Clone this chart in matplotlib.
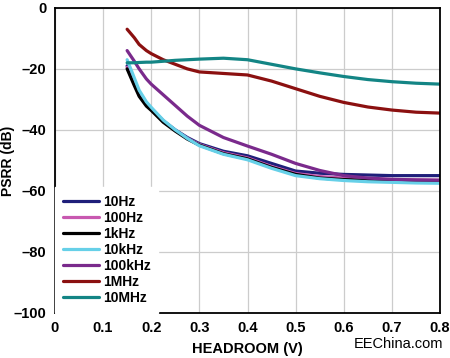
import numpy as np
import matplotlib.pyplot as plt

# headroom (V) sample points for each curve
x = [0.15, 0.165, 0.175, 0.19, 0.2, 0.225, 0.25, 0.275, 0.3, 0.35, 0.4, 0.45, 0.5, 0.55, 0.6, 0.65, 0.7, 0.75, 0.8]

psrr_10hz = [-19, -24.5, -28, -31.5, -33, -37, -40, -42.5, -44.5, -47, -48.5, -51, -53.5, -54.2, -54.6, -54.8, -55, -55, -55]
psrr_100hz = [-19.5, -25, -28.5, -31.8, -33.2, -37.2, -40.2, -42.8, -44.8, -47.5, -49.2, -52, -54.3, -55.3, -55.8, -56.1, -56.3, -56.4, -56.5]
psrr_1khz = [-20, -25.5, -29, -32.2, -33.6, -37.5, -40.4, -43, -45, -47.8, -49.5, -52.3, -54.6, -55.8, -56.3, -56.6, -56.8, -57, -57]
psrr_10khz = [-17, -23, -27, -30.8, -32.6, -36.8, -40, -42.8, -45.2, -48, -49.8, -52.6, -55, -56, -56.6, -57, -57.2, -57.4, -57.5]
psrr_100khz = [-14, -17.5, -20, -23.3, -25, -28.5, -32, -35.5, -38.5, -42.5, -45.3, -48, -51, -53.3, -55, -55.8, -56.2, -56.4, -56.5]
psrr_1mhz = [-7, -9.8, -12, -14, -15, -17, -18.5, -20, -21, -21.5, -22, -24, -26.5, -29, -31, -32.5, -33.5, -34.2, -34.5]
psrr_10mhz = [-18, -18, -17.9, -17.8, -17.8, -17.5, -17.2, -17, -16.8, -16.5, -17, -18.5, -20, -21.3, -22.5, -23.5, -24.2, -24.7, -25]

series = [
    ("10Hz", psrr_10hz, "#1f1f7a"),
    ("100Hz", psrr_100hz, "#c858b0"),
    ("1kHz", psrr_1khz, "#000000"),
    ("10kHz", psrr_10khz, "#66d0e8"),
    ("100kHz", psrr_100khz, "#7a2a8c"),
    ("1MHz", psrr_1mhz, "#8b1010"),
    ("10MHz", psrr_10mhz, "#138585"),
]

plt.rcParams['font.family'] = ['Liberation Sans', 'DejaVu Sans']

fig = plt.figure(figsize=(4.5, 3.58), dpi=100)
ax = fig.add_axes([0.122, 0.126, 0.856, 0.852])

for label, y, color in series:
    ax.plot(x, y, color=color, linewidth=2.3, label=label,
            solid_joinstyle='round', solid_capstyle='round')

ax.set_xlim(0, 0.8)
ax.set_ylim(-100, 0)
ax.set_xticks(np.arange(0, 0.81, 0.1))
ax.set_xticklabels(['0', '0.1', '0.2', '0.3', '0.4', '0.5', '0.6', '0.7', '0.8'])
ax.set_yticks(np.arange(-100, 1, 20))
ax.set_yticklabels(['\u2013100', '\u201380', '\u201360', '\u201340', '\u201320', '0'])
ax.tick_params(length=0, labelsize=10.5, pad=6)
for lab in ax.get_xticklabels() + ax.get_yticklabels():
    lab.set_fontweight('bold')

ax.grid(True, color='#cccccc', linewidth=0.9)
for sp in ax.spines.values():
    sp.set_color('black')
    sp.set_linewidth(1.3)

ax.set_xlabel('HEADROOM (V)', fontsize=10.5, fontweight='bold', labelpad=5)
ax.set_ylabel('PSRR (dB)', fontsize=10, fontweight='bold', va='center')
ax.yaxis.set_label_coords(-0.123, 0.5)

leg = ax.legend(loc='lower left', bbox_to_anchor=(0.0, 0.0), frameon=True,
                fancybox=False, edgecolor='white', facecolor='white', framealpha=1,
                fontsize=10, handlelength=2.6, handletextpad=0.3, labelspacing=0.15,
                borderaxespad=0.0, borderpad=0.55)
for t in leg.get_texts():
    t.set_fontweight('bold')

fig.text(0.985, 0.04, 'EEChina.com', ha='right', va='center', fontsize=10.5, color='black')

fig.savefig('out.png', dpi=100)
